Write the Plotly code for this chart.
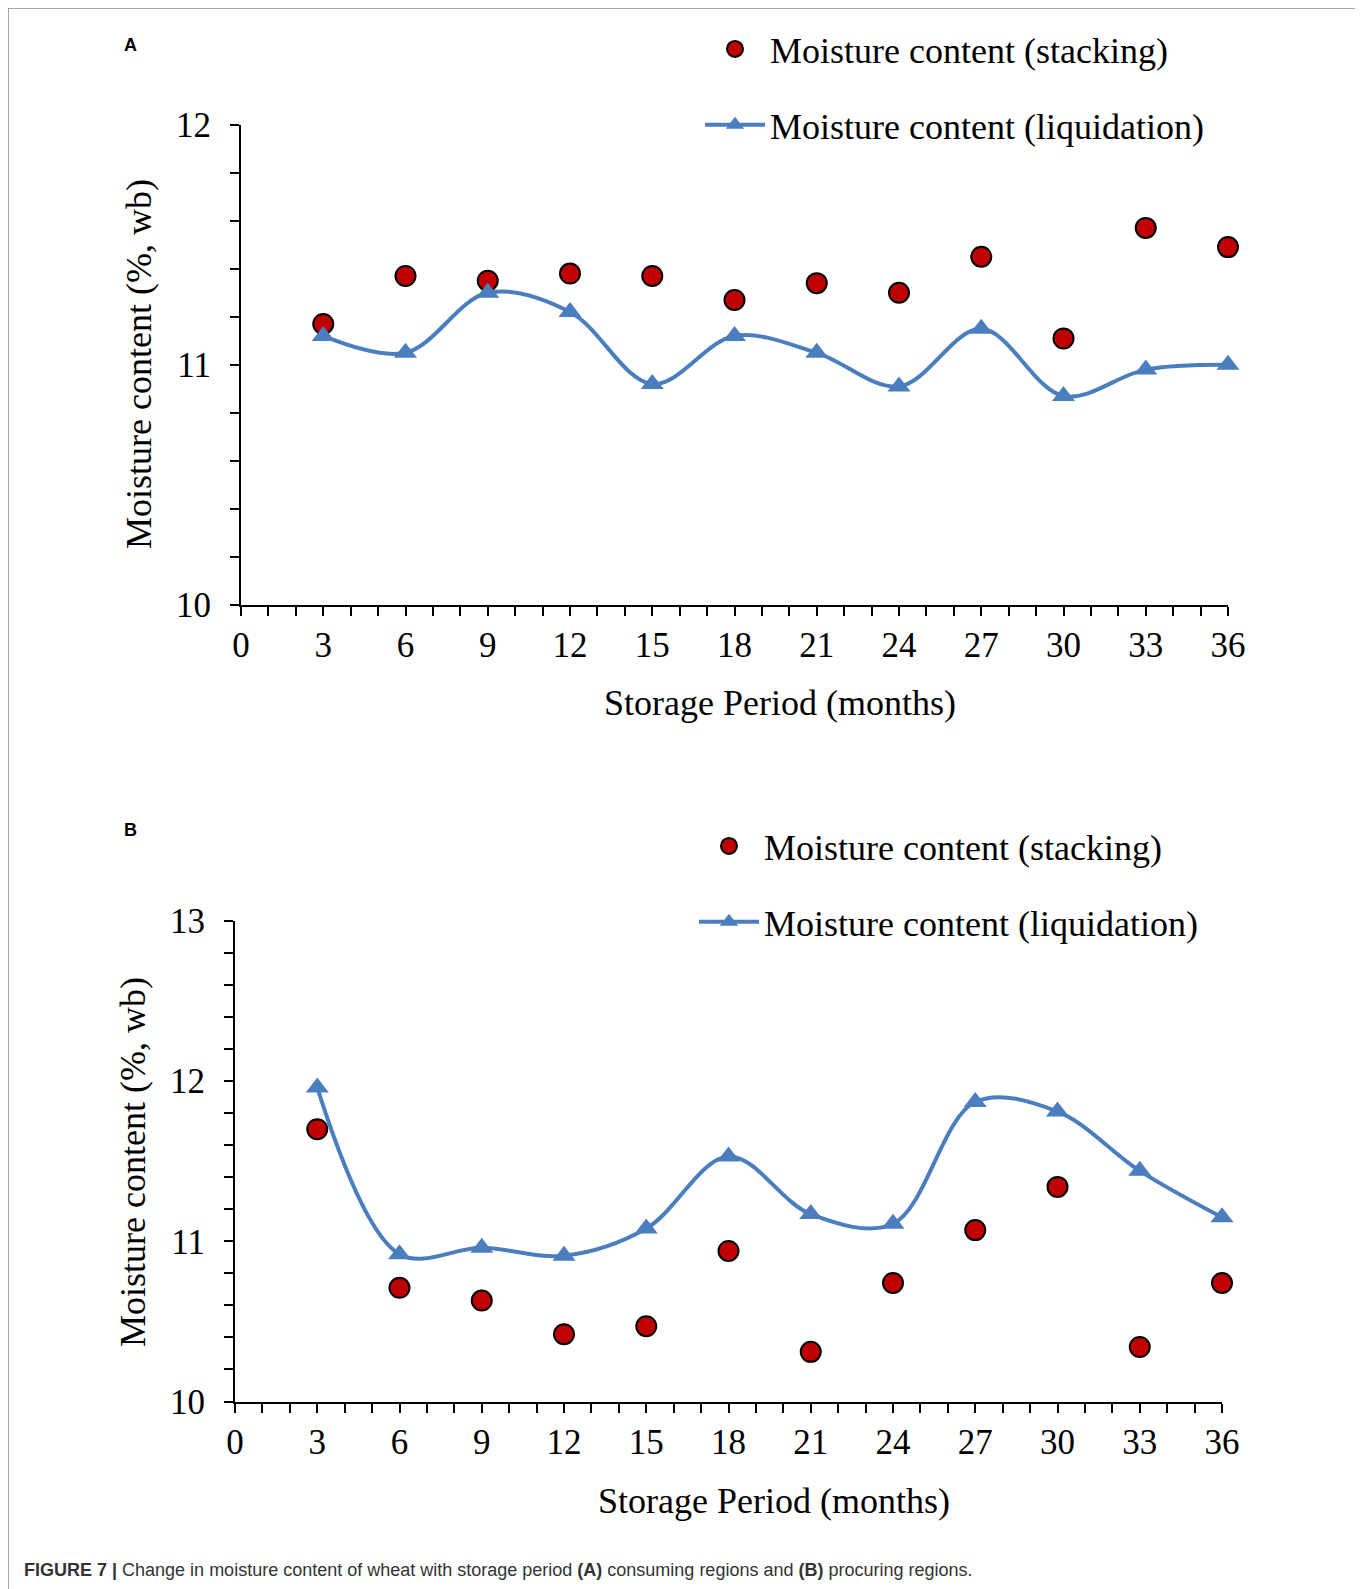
import plotly.graph_objects as go

months = [3, 6, 9, 12, 15, 18, 21, 24, 27, 30, 33, 36]

# Panel A: consuming regions
a_stacking = [11.17, 11.37, 11.35, 11.38, 11.37, 11.27, 11.34, 11.30, 11.45, 11.11, 11.57, 11.49]
a_liquidation = [11.12, 11.05, 11.30, 11.22, 10.92, 11.12, 11.05, 10.91, 11.15, 10.87, 10.98, 11.00]

# Panel B: procuring regions
b_stacking = [11.70, 10.71, 10.63, 10.42, 10.47, 10.94, 10.31, 10.74, 11.07, 11.34, 10.34, 10.74]
b_liquidation = [11.96, 10.92, 10.96, 10.91, 11.08, 11.53, 11.17, 11.11, 11.87, 11.81, 11.44, 11.15]

name_stack = "Moisture content (stacking)"
name_liq = "Moisture content (liquidation)"
x_title = "Storage Period (months)"
y_title = "Moisture content (%, wb)"
x_ticks = [0, 3, 6, 9, 12, 15, 18, 21, 24, 27, 30, 33, 36]

W, H = 1363, 1589
OFF = 8  # page body margin
SERIF = "Liberation Serif"
RED = "#C00000"
BLUE = "#4A7EBE"

def px(x):
    return (x - OFF) / W

def py(y):
    return (H - (y - OFF)) / H

fig = go.Figure()

def add_panel(stack, liq, xa, ya, leg):
    fig.add_trace(go.Scatter(
        x=months, y=stack, mode="markers", name=name_stack,
        marker=dict(symbol="circle", size=20, color=RED, line=dict(color="black", width=2)),
        xaxis=xa, yaxis=ya, legend=leg, legendgroup=leg + "s", cliponaxis=False))
    fig.add_trace(go.Scatter(
        x=months, y=liq, mode="lines+markers", name=name_liq,
        line=dict(color=BLUE, width=4, shape="spline", smoothing=1.0),
        marker=dict(symbol="triangle-up", size=20, color=BLUE),
        xaxis=xa, yaxis=ya, legend=leg, legendgroup=leg + "l", cliponaxis=False))

add_panel(a_stacking, a_liquidation, "x", "y", "legend")
add_panel(b_stacking, b_liquidation, "x2", "y2", "legend2")

tickfont = dict(family=SERIF, size=35, color="black")

def xaxis(dom, anchor):
    return dict(domain=dom, anchor=anchor, range=[0, 36], tickvals=x_ticks,
                showline=True, linecolor="black", linewidth=2,
                ticks="outside", ticklen=9, tickwidth=1.5, tickcolor="black",
                minor=dict(dtick=1, tick0=0, ticks="outside", ticklen=9, tickwidth=1.5, tickcolor="black"),
                showgrid=False, zeroline=False, tickfont=tickfont, ticklabelstandoff=-1,
                automargin=False)

def yaxis(dom, anchor, rng, tv):
    return dict(domain=dom, anchor=anchor, range=rng, tickvals=tv,
                showline=True, linecolor="black", linewidth=2,
                ticks="outside", ticklen=9, tickwidth=1.5, tickcolor="black",
                minor=dict(dtick=0.2, tick0=10, ticks="outside", ticklen=9, tickwidth=1.5, tickcolor="black"),
                showgrid=False, zeroline=False, tickfont=tickfont, ticklabelstandoff=12,
                automargin=False)

legfont = dict(family=SERIF, size=36, color="black")

fig.update_layout(
    width=W, height=H,
    margin=dict(l=0, r=0, t=0, b=0, pad=0, autoexpand=False),
    paper_bgcolor="white", plot_bgcolor="white",
    xaxis=xaxis([px(241), px(1228)], "y"),
    yaxis=yaxis([py(605), py(124.6)], "x", [10, 12], [10, 11, 12]),
    xaxis2=xaxis([px(235), px(1222)], "y2"),
    yaxis2=yaxis([py(1401.5), py(921)], "x2", [10, 13], [10, 11, 12, 13]),
    legend=dict(x=px(700), y=py(19), xanchor="left", yanchor="top", font=legfont,
                itemwidth=60, tracegroupgap=26, traceorder="grouped", bgcolor="rgba(0,0,0,0)"),
    legend2=dict(x=px(694), y=py(816), xanchor="left", yanchor="top", font=legfont,
                 itemwidth=60, tracegroupgap=26, traceorder="grouped", bgcolor="rgba(0,0,0,0)"),
    showlegend=True,
)

annots = [
    dict(text=x_title, x=px(780), y=py(703), font=legfont),
    dict(text=x_title, x=px(774), y=py(1501), font=legfont),
    dict(text=y_title, x=px(139), y=py(364), font=legfont, textangle=-90),
    dict(text=y_title, x=px(133), y=py(1162), font=legfont, textangle=-90),
    dict(text="<b>A</b>", x=px(130), y=py(45), font=dict(family="Liberation Sans", size=18, color="black")),
    dict(text="<b>B</b>", x=px(130), y=py(830), font=dict(family="Liberation Sans", size=18, color="black")),
    dict(text="<b>FIGURE 7 |</b> Change in moisture content of wheat with storage period <b>(A)</b> consuming regions and <b>(B)</b> procuring regions.",
         x=px(22), y=py(1570), xanchor="left", font=dict(family="Liberation Sans", size=18, color="#333333")),
]
for a in annots:
    a.setdefault("xanchor", "center")
    fig.add_annotation(xref="paper", yref="paper", showarrow=False, yanchor="middle", **a)

fig.add_shape(type="path", xref="paper", yref="paper",
              path=f"M {px(8)} -0.1 L {px(8)} {py(8)} L {px(1358)} {py(8)} L {px(1358)} -0.1",
              line=dict(color="#8a8a8a", width=1.5))

fig.write_html("out.html")
